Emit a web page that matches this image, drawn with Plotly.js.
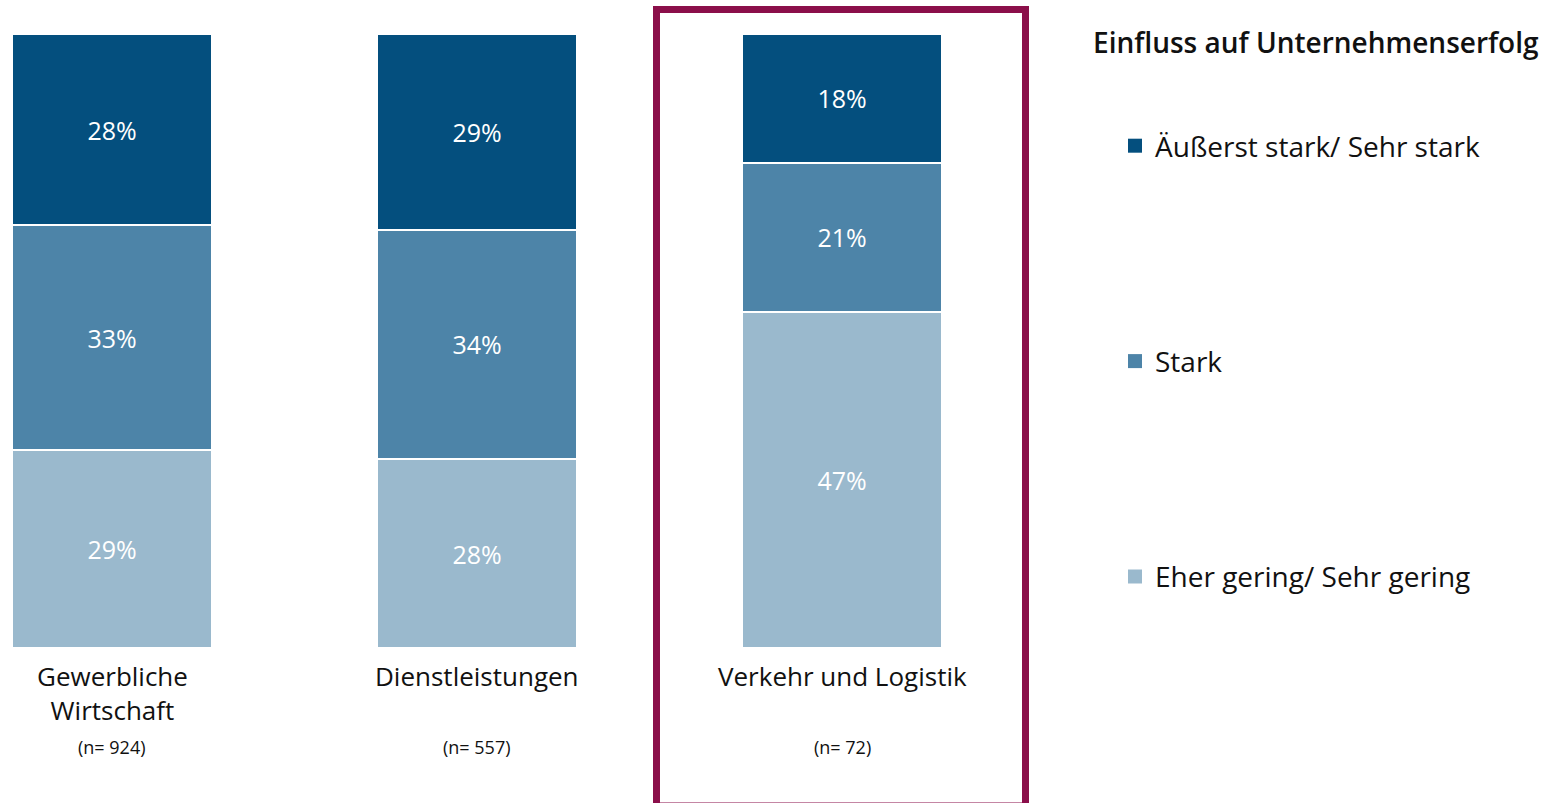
<!DOCTYPE html>
<html>
<head>
<meta charset="utf-8">
<script src="https://cdn.plot.ly/plotly-3.0.1.min.js"></script>
<style>html,body{margin:0;padding:0;background:#fff;}#chart{width:1558px;height:803px;}</style>
</head>
<body>
<div id="chart"></div>
<script>
const categories = ["Gewerbliche<br>Wirtschaft", "Dienstleistungen", "Verkehr und Logistik"];
const sampleLabels = ["(n= 924)", "(n= 557)", "(n= 72)"];
const seriesNames = ["Eher gering/ Sehr gering", "Stark", "Äußerst stark/ Sehr stark"];
const geringValues = [29, 28, 47];
const starkValues = [33, 34, 21];
const sehrStarkValues = [28, 29, 18];
const legendTitle = "Einfluss auf Unternehmenserfolg";

const colors = ["#9ab9cd", "#4d84a8", "#044f7e"];
const seriesValues = [geringValues, starkValues, sehrStarkValues];
const xs = [0, 1, 2];
const FONT = "Open Sans, sans-serif";

const traces = seriesValues.map((vals, i) => ({
  type: "bar",
  x: xs,
  y: vals,
  name: seriesNames[i],
  showlegend: false,
  marker: {color: colors[i], line: {color: "#ffffff", width: 2}},
  text: vals.map(v => v + "%"),
  textposition: "inside",
  insidetextanchor: "middle",
  textfont: {color: "#ffffff", size: 25, family: FONT},
  hoverinfo: "skip"
}));

// legend entries (square markers), top of stack listed first
for (let i = seriesNames.length - 1; i >= 0; i--) {
  traces.push({
    type: "scatter", mode: "markers",
    x: [null], y: [null],
    name: seriesNames[i],
    legendgroup: "g" + i,
    marker: {symbol: "square", size: 14, color: colors[i]},
    hoverinfo: "skip"
  });
}

const annotations = [];
categories.forEach((c, i) => {
  annotations.push({
    xref: "x", yref: "paper", x: i, y: -0.013, yanchor: "top",
    text: c, showarrow: false,
    font: {size: 26, family: FONT, color: "#111"}
  });
  annotations.push({
    xref: "x", yref: "paper", x: i, y: -0.139, yanchor: "top",
    text: sampleLabels[i], showarrow: false,
    font: {size: 18, family: FONT, color: "#111"}
  });
});
annotations.push({
  xref: "paper", yref: "paper", x: 1091/1030, y: 1 - (42-34)/614, xanchor: "left", yanchor: "middle",
  text: legendTitle, showarrow: false,
  font: {size: 28, family: FONT, color: "#111", weight: 600}
});

const layout = {
  width: 1558, height: 803,
  margin: {l: 0, r: 528, t: 34, b: 155},
  paper_bgcolor: "#ffffff", plot_bgcolor: "#ffffff",
  barmode: "stack", barnorm: "percent", bargap: 0.452,
  xaxis: {range: [-0.307, 2.515], showticklabels: false, showgrid: false, zeroline: false, showline: false, fixedrange: true},
  yaxis: {range: [0, 100], visible: false, fixedrange: true},
  showlegend: true,
  legend: {
    x: 1115/1030, y: 1 - (121-34)/614, xanchor: "left", yanchor: "top",
    traceorder: "grouped", tracegroupgap: 176,
    font: {size: 28, family: FONT, color: "#111"},
    itemwidth: 30, itemsizing: "trace"
  },
  annotations: annotations,
  shapes: [{
    type: "rect", xref: "paper", yref: "paper",
    x0: 656.5/1030, x1: 1025.5/1030,
    y0: -(806-648)/614, y1: 1 + (34-9.5)/614,
    line: {color: "#8b0f4a", width: 7}, fillcolor: "rgba(0,0,0,0)"
  }]
};

Plotly.newPlot("chart", traces, layout, {displayModeBar: false, staticPlot: true});
</script>
</body>
</html>
